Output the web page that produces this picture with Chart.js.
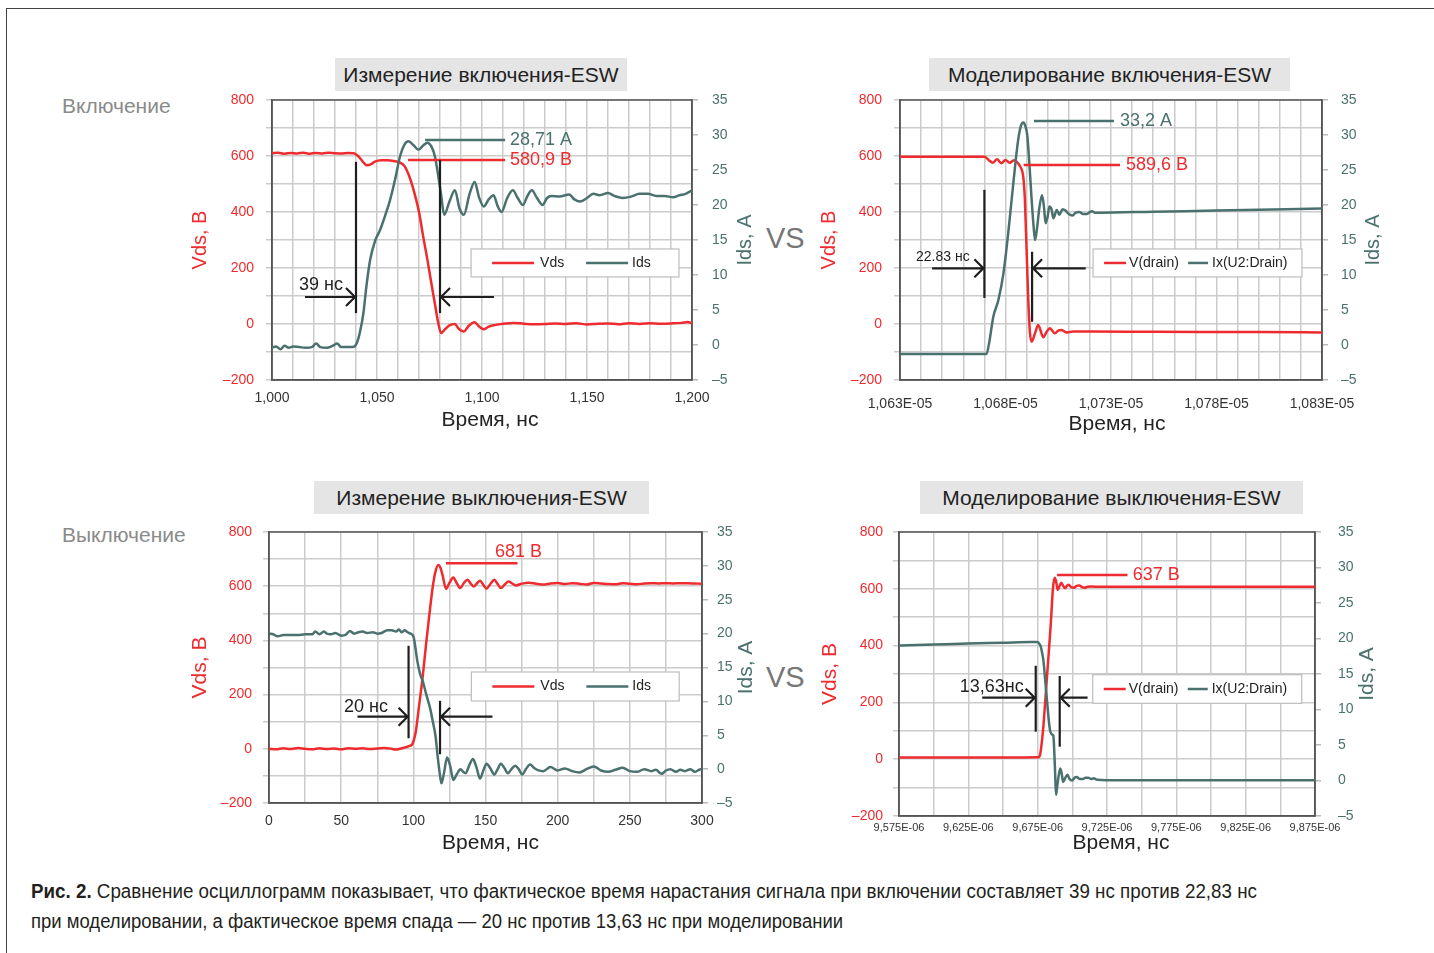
<!DOCTYPE html>
<html lang="ru">
<head>
<meta charset="utf-8">
<script src="https://cdn.jsdelivr.net/npm/chart.js@4.4.1/dist/chart.umd.min.js"></script>
<style>
  html, body { margin: 0; padding: 0; background: #fff; }
  body { width: 1434px; height: 953px; position: relative; overflow: hidden;
         font-family: "Liberation Sans", Arial, sans-serif; }
  canvas { position: absolute; }
  .rule { position: absolute; background: #444; }
  .ttl { position: absolute; background: #e5e5e5; color: #222; font-size: 21px;
         height: 33px; line-height: 33px; text-align: center; }
  .side { position: absolute; color: #8a8a8a; font-size: 21px; line-height: 24px; }
  .vs { position: absolute; color: #777; font-size: 29px; line-height: 34px; }
  .cap { position: absolute; left: 31px; font-size: 20px; line-height: 24px; color: #231f20;
         white-space: nowrap; transform-origin: 0 50%;
         font-family: "Liberation Sans Narrow", "Liberation Sans", Arial, sans-serif; }
</style>
</head>
<body>
<div class="rule" style="left:6px;top:8px;width:1428px;height:1px"></div>
<div class="rule" style="left:6px;top:8px;width:1px;height:945px"></div>

<div class="side" style="left:62px;top:94px">Включение</div>
<div class="side" style="left:62px;top:523px">Выключение</div>
<div class="vs" style="left:766px;top:221px">VS</div>
<div class="vs" style="left:766px;top:660px">VS</div>

<div class="ttl" style="left:335px;top:58px;width:292px">Измерение включения-ESW</div>
<div class="ttl" style="left:929px;top:58px;width:361px">Моделирование включения-ESW</div>
<div class="ttl" style="left:314px;top:481px;width:335px">Измерение выключения-ESW</div>
<div class="ttl" style="left:920px;top:481px;width:383px">Моделирование выключения-ESW</div>

<canvas id="c1" width="590" height="350" style="left:180px;top:92px"></canvas>
<canvas id="c2" width="580" height="350" style="left:810px;top:92px"></canvas>
<canvas id="c3" width="590" height="340" style="left:180px;top:524px"></canvas>
<canvas id="c4" width="570" height="340" style="left:810px;top:524px"></canvas>

<div class="cap" id="cap1" style="top:879px"><b>Рис. 2.</b> Сравнение осциллограмм показывает, что фактическое время нарастания сигнала при включении составляет 39 нс против 22,83 нс</div>
<div class="cap" id="cap2" style="top:909px">при моделировании, а фактическое время спада — 20 нс против 13,63 нс при моделировании</div>

<script>
const RED = '#ee2b2e';
const TEAL = '#4a716d';
const INK = '#1e1e1e';
const FONT = '"Liberation Sans", Arial, sans-serif';

// ---- Измерение включения (нс, В / А)
const on1VdsT = [1000,1003,1006,1009,1012,1015,1018,1021,1024,1027,1030,1033,1036,1039,1041,1043,1045,1047,1049,1052,1055,1058,1061,1063,1065,1067,1070,1072,1074,1076,1077.5,1079,1080.5,1082.5,1084.5,1087,1089,1091.4,1093.5,1096.5,1098.5,1100.8,1103,1106,1110,1115,1120,1125,1130,1135,1140,1145,1150,1155,1160,1165,1170,1175,1180,1185,1190,1195,1198,1200];
const on1VdsV = [610,612,608,611,609,612,608,611,609,612,610,609,611,610,600,582,567,570,580,585,585,582,576,565,535,490,400,312,230,140,75,10,-32,-18,-5,0,-18,-27,-8,6,-8,-19,-10,-4,1,4,1,-1,0,2,0,3,-2,1,2,-1,3,0,3,1,2,4,7,2];
const on1IdsT = [1000,1002,1004,1006,1008,1010,1013,1016,1019,1021,1023,1026,1029,1031,1033,1036,1038.5,1040.3,1042,1043.5,1045,1046.7,1049,1051.4,1054,1056.2,1058.5,1061,1063,1065,1067.5,1069.7,1072,1074,1076,1077.6,1079,1080.5,1082,1084.5,1087.1,1089.3,1091.4,1094,1096.5,1098.7,1100.8,1103.2,1105.5,1107.5,1109.3,1112,1114.7,1117,1119.5,1121.5,1123.7,1126.2,1128.8,1131,1133,1137,1141.5,1144,1146.7,1150,1153,1156,1160,1163,1167,1171,1175,1179,1183,1187,1191,1194,1197,1200];
const on1IdsA = [-0.4,-0.2,-0.6,-0.1,-0.4,-0.2,-0.3,-0.4,-0.3,0.2,-0.3,-0.4,-0.1,0.2,-0.3,-0.3,-0.3,0.2,2.0,4.5,8.5,12.1,14.8,16.4,18.6,20.7,23.5,27.0,28.6,29.1,28.5,27.9,28.5,28.9,28.3,26.9,24.5,21.5,18.6,20.5,22.1,19.5,18.6,21.5,23.3,21.0,19.8,20.8,21.4,19.8,19.0,21.0,22.1,21.0,20.0,21.2,22.1,21.0,20.0,21.0,21.3,21.2,21.5,20.8,20.5,21.0,21.6,21.4,21.7,21.3,21.0,21.2,21.6,21.6,21.3,21.3,21.1,21.4,21.6,22.1];

// ---- Моделирование включения (нс)
const on2VdsT = [10630,10670,10672,10674,10676,10678,10680,10682,10684,10685.5,10687,10688.4,10689.2,10690,10690.8,10691.6,10692.4,10694,10695.5,10697.9,10699.5,10701,10703.4,10705,10706.6,10709,10712,10720,10750,10800,10830];
const on2VdsV = [597,597,586,576,588,574,586,576,585,578,562,526,443,264,86,-33,-63,-33,-4,-47,-28,-15,-33,-24,-21,-30,-27,-27,-28,-29,-30];
const on2IdsT = [10630,10671,10672.3,10674.2,10676.6,10679,10681.3,10683.7,10686,10687.3,10688.4,10689.4,10690.3,10691.4,10692.4,10693.3,10694,10695,10696,10697.3,10698.2,10699,10700,10700.8,10701.8,10702.7,10704.3,10705.5,10707,10708.5,10710,10711.6,10713.3,10715,10716.8,10718.4,10720,10721,10722.5,10725,10750,10780,10830];
const on2IdsA = [-1.3,-1.3,0.4,4.0,6.4,10.2,16.0,23.1,29.3,31.3,31.8,31.3,30.0,25.5,20.7,17.0,15.0,16.8,19.5,21.4,19.8,17.4,18.4,19.8,19.4,18.1,19.3,18.6,19.4,19.2,18.7,18.5,18.9,19.0,18.7,18.7,19.0,19.1,18.9,18.9,19.05,19.2,19.5];

// ---- Измерение выключения (нс)
const off1VdsT = [0,5,10,15,20,25,30,35,40,45,50,55,60,65,70,75,80,85,88,92,95,97,99.2,100.5,101.7,104,106.6,109,111.6,113.5,115.3,117.3,118.8,120.2,122.7,125,127.7,130,132.6,135,137.6,139.7,141.8,144,146.2,148.5,150.7,153.4,156.1,158.4,160.6,163.3,166,168.5,171,175,180,185,190,195,200,205,210,215,220,225,230,235,240,245,250,255,260,265,270,275,280,285,290,295,300];
const off1VdsV = [0,-2,2,-1,3,0,-2,2,-1,1,-2,2,0,2,-1,1,3,0,-3,2,6,10,16,35,63,160,272,395,518,600,653,678,668,642,590,612,632,612,593,612,624,610,599,610,620,605,591,608,624,608,593,606,617,610,603,609,613,609,606,610,612,608,611,609,606,612,610,608,607,611,609,607,610,611,610,611,610,611,611,610,609];
const off1IdsT = [0,3,6,10,15,20,25,30,32,35,38,40,43,46,50,53,56,59,62,65,68,72,75,78,82,85,88,90,92,94,96,98,99.5,100.4,102.9,104.5,106.6,109,111.6,113.5,115.3,117,118.2,119.5,121.3,123.4,125.5,127.7,130,132.6,134.5,136.3,138.8,141.3,143.7,146.2,148.5,150.7,153.4,156.1,158.4,160.6,163,165.5,168,170.5,173,175.4,178,180.9,183.5,185.8,190,195,200,205,210,215,220,225,230,235,240,245,250,255,260,265,268,272,275,278,282,285,288,292,295,298,300];
const off1IdsA = [20.0,19.9,19.6,19.8,19.8,19.8,19.9,19.9,20.3,19.9,20.3,20.0,19.9,20.1,19.7,19.8,20.4,20.0,20.2,20.3,20.1,20.2,20.0,20.1,20.5,20.5,20.3,20.6,20.2,20.5,20.2,20.0,19.8,19.3,15.8,14.2,12.9,11.0,9.0,7.0,5.0,1.6,-0.5,-2.1,-0.5,1.7,0.5,-1.6,-0.8,0.0,-0.4,-0.6,0.6,1.5,0.3,-1.4,-0.2,0.8,0.1,-0.8,0.0,0.8,0.2,-0.6,0.0,0.5,0.0,-0.8,0.0,0.7,0.2,-0.1,-0.3,0.3,-0.2,0.1,-0.3,-0.5,0.0,0.4,-0.2,-0.4,-0.1,0.2,-0.3,-0.4,0.0,-0.3,-0.1,-0.7,-0.2,0.0,-0.4,-0.1,-0.3,0.0,-0.4,-0.1,0.0];

// ---- Моделирование выключения (нс)
const off2VdsT = [9575,9650,9675.4,9676.7,9678,9679.2,9681.8,9684.4,9686,9687.2,9688.2,9689.5,9690.8,9692.1,9693.4,9694.7,9696,9697.3,9699.2,9701.2,9703,9705,9707,9708.8,9711,9713.9,9720,9875];
const off2VdsV = [6,6,7,15,60,120,296,472,600,639,628,596,610,621,610,602,610,614,606,604,610,612,606,604,607,608,607,607];
const off2IdsT = [9575,9600,9625,9650,9670,9675,9676,9677.2,9678.2,9679.2,9680.5,9681.8,9683,9684,9685.2,9686.3,9687,9687.6,9688.2,9689,9690,9691.3,9692.3,9693.4,9695,9696.5,9698,9699.9,9701.6,9703.2,9705.5,9707.6,9709.5,9711.5,9713.5,9715.4,9718,9725,9875];
const off2IdsA = [19.0,19.15,19.3,19.4,19.5,19.5,19.3,18.9,18.0,16.8,14.0,11.1,8.5,7.0,6.5,6.3,4.0,1.0,-2.0,-1.0,0.5,1.7,1.0,-0.2,0.4,0.8,0.2,0.0,0.4,0.5,0.2,0.2,0.4,0.4,0.2,0.3,0.1,0.05,0.05];

// ---- Подписи делений
const vTickVals = [-200, 0, 200, 400, 600, 800];
const vTickText = ['\u2013200', '0', '200', '400', '600', '800'];
const aTickVals = [-5, 0, 5, 10, 15, 20, 25, 30, 35];
const aTickText = ['\u20135', '0', '5', '10', '15', '20', '25', '30', '35'];
const x1TickVals = [1000, 1050, 1100, 1150, 1200];
const x1TickText = ['1,000', '1,050', '1,100', '1,150', '1,200'];
const x2TickVals = [10630, 10680, 10730, 10780, 10830];
const x2TickText = ['1,063E-05', '1,068E-05', '1,073E-05', '1,078E-05', '1,083E-05'];
const x3TickVals = [0, 50, 100, 150, 200, 250, 300];
const x3TickText = ['0', '50', '100', '150', '200', '250', '300'];
const x4TickVals = [9575, 9625, 9675, 9725, 9775, 9825, 9875];
const x4TickText = ['9,575E-06', '9,625E-06', '9,675E-06', '9,725E-06', '9,775E-06', '9,825E-06', '9,875E-06'];

function pts(xs, ys) {
    return xs.map(function (x, i) { return { x: x, y: ys[i] }; });
}

function lookup(vals, text) {
    return function (v) {
        for (var i = 0; i < vals.length; i++) {
            if (Math.abs(vals[i] - v) < 1e-6) return text[i];
        }
        return '';
    };
}

function fitTo(w, h) {
    return function (scale) {
        if (w) scale.width = w;
        if (h) scale.height = h;
        scale.paddingTop = 0; scale.paddingBottom = 0;
        scale.paddingLeft = 0; scale.paddingRight = 0;
    };
}

// annotations: everything in axis units, turned into pixels by the chart's scales
function marksPlugin(m, o) {
    return {
        id: 'marks',
        beforeDatasetsDraw: function (chart) {
            var a = chart.chartArea, ctx = chart.ctx;
            ctx.save();
            ctx.strokeStyle = '#555';
            ctx.lineWidth = 1.5;
            ctx.strokeRect(a.left, a.top, a.right - a.left, a.bottom - a.top);
            ctx.restore();
        },
        afterDatasetsDraw: function (chart) {
            var ctx = chart.ctx, sx = chart.scales.x;
            var sc = function (ax) { return chart.scales[ax]; };
            ctx.save();
            ctx.lineCap = 'butt';

            (m.hlines || []).forEach(function (h) {
                var y = sc(h.ax).getPixelForValue(h.y);
                ctx.strokeStyle = h.c; ctx.lineWidth = 2.5;
                ctx.beginPath();
                ctx.moveTo(sx.getPixelForValue(h.x1), y);
                ctx.lineTo(sx.getPixelForValue(h.x2), y);
                ctx.stroke();
            });

            (m.vlines || []).forEach(function (v) {
                var x = sx.getPixelForValue(v.x), sy = chart.scales.y;
                ctx.strokeStyle = INK; ctx.lineWidth = 2.2;
                ctx.beginPath();
                ctx.moveTo(x, sy.getPixelForValue(v.y1));
                ctx.lineTo(x, sy.getPixelForValue(v.y2));
                ctx.stroke();
            });

            (m.arrows || []).forEach(function (r) {
                var sy = chart.scales.y, y = sy.getPixelForValue(r.y);
                var x0 = sx.getPixelForValue(r.from), x1 = sx.getPixelForValue(r.to);
                var d = x1 > x0 ? 1 : -1;
                ctx.strokeStyle = INK; ctx.lineWidth = 2.2;
                ctx.beginPath();
                ctx.moveTo(x0, y); ctx.lineTo(x1 - d * 1, y);
                ctx.moveTo(x1 - d * 10, y - 9); ctx.lineTo(x1 - d * 1, y); ctx.lineTo(x1 - d * 10, y + 9);
                ctx.stroke();
            });

            (m.texts || []).forEach(function (t) {
                ctx.fillStyle = t.c;
                ctx.font = t.f + 'px ' + FONT;
                ctx.textAlign = 'left';
                ctx.textBaseline = 'middle';
                ctx.fillText(t.t, sx.getPixelForValue(t.x), sc(t.ax).getPixelForValue(t.y));
            });

            if (m.legend) {
                var g = m.legend, sy = chart.scales.y;
                var l = sx.getPixelForValue(g.x1), r = sx.getPixelForValue(g.x2);
                var tp = sy.getPixelForValue(g.y1), bt = sy.getPixelForValue(g.y2);
                var cy = (tp + bt) / 2;
                ctx.fillStyle = '#fff';
                ctx.fillRect(l, tp, r - l, bt - tp);
                ctx.strokeStyle = '#bdbdbd'; ctx.lineWidth = 1.2;
                ctx.strokeRect(l, tp, r - l, bt - tp);
                g.items.forEach(function (it) {
                    ctx.strokeStyle = it.c; ctx.lineWidth = 2.5;
                    ctx.beginPath();
                    ctx.moveTo(l + it.l0, cy); ctx.lineTo(l + it.l1, cy);
                    ctx.stroke();
                    ctx.fillStyle = '#222';
                    ctx.font = '14px ' + FONT;
                    ctx.textAlign = 'left'; ctx.textBaseline = 'middle';
                    ctx.fillText(it.t, l + it.tx, cy);
                });
            }
            ctx.restore();
        },
        afterDraw: function (chart) {
            // axis titles not placed the way Chart.js would put them:
            // right title reads bottom-to-top, x title sits a little right of centre
            var ctx = chart.ctx, a = chart.chartArea;
            ctx.save();
            ctx.textAlign = 'center';
            ctx.textBaseline = 'middle';
            ctx.fillStyle = '#222';
            ctx.font = '21px ' + FONT;
            ctx.fillText('Время, нс', (a.left + a.right) / 2 + o.xTitleDx, chart.height - o.xTitleUp);
            ctx.translate(chart.width - o.y1TitleOff, (a.top + a.bottom) / 2);
            ctx.rotate(-Math.PI / 2);
            ctx.fillStyle = TEAL;
            ctx.font = o.yTitleSize + 'px ' + FONT;
            ctx.fillText('Ids, А', 0, 0);
            ctx.restore();
        }
    };
}

function makeChart(id, o) {
    var grid = '#cbcbcb';
    return new Chart(document.getElementById(id), {
        type: 'line',
        data: {
            datasets: [
                { label: o.names[1], data: o.ids, yAxisID: 'y1', borderColor: TEAL, borderWidth: 2.5,
                  pointRadius: 0, cubicInterpolationMode: 'monotone', fill: false },
                { label: o.names[0], data: o.vds, yAxisID: 'y', borderColor: RED, borderWidth: 2.5,
                  pointRadius: 0, cubicInterpolationMode: 'monotone', fill: false }
            ]
        },
        options: {
            responsive: false,
            animation: false,
            events: [],
            layout: { padding: { top: o.padTop, left: 0, right: 0, bottom: 0 } },
            plugins: { legend: { display: false }, tooltip: { enabled: false } },
            scales: {
                x: {
                    type: 'linear', min: o.xMin, max: o.xMax,
                    afterFit: fitTo(null, o.xH),
                    grid: { color: grid, lineWidth: 1.5, drawTicks: false },
                    border: { color: '#555', width: 1.5 },
                    ticks: { stepSize: o.xStep, maxTicksLimit: 100, autoSkip: false, maxRotation: 0,
                             padding: o.xPad, color: '#333', font: { family: FONT, size: o.xFont },
                             callback: lookup(o.xVals, o.xText) }
                },
                y: {
                    position: 'left', min: -200, max: 800,
                    afterFit: fitTo(o.yW, null),
                    grid: { color: grid, lineWidth: 1.5, tickLength: 6 },
                    border: { color: '#555', width: 1.5 },
                    ticks: { stepSize: 100, maxTicksLimit: 100, autoSkip: false, padding: o.yPad,
                             color: RED, font: { family: FONT, size: 14 },
                             callback: lookup(vTickVals, vTickText) },
                    title: { display: true, text: 'Vds, В', color: RED,
                             font: { family: FONT, size: o.yTitleSize }, padding: { top: o.yTitlePad, bottom: 0 } }
                },
                y1: {
                    position: 'right', min: -5, max: 35,
                    afterFit: fitTo(o.y1W, null),
                    grid: { drawOnChartArea: false, color: '#bbb', lineWidth: 1.5, tickLength: 6 },
                    border: { color: '#555', width: 1.5 },
                    ticks: { stepSize: 5, maxTicksLimit: 100, autoSkip: false, padding: o.y1Pad,
                             color: TEAL, font: { family: FONT, size: 14 },
                             callback: lookup(aTickVals, aTickText) }
                }
            }
        },
        plugins: [marksPlugin(o.marks, o)]
    });
}

var legA = [{ c: RED, t: 'Vds', l0: 21, l1: 63, tx: 69 }, { c: TEAL, t: 'Ids', l0: 115, l1: 157, tx: 161 }];
var legB = [{ c: RED, t: 'V(drain)', l0: 11, l1: 33, tx: 36 }, { c: TEAL, t: 'Ix(U2:Drain)', l0: 95, l1: 115, tx: 119 }];

makeChart('c1', {
    names: ['Vds', 'Ids'], vds: pts(on1VdsT, on1VdsV), ids: pts(on1IdsT, on1IdsA),
    xMin: 1000, xMax: 1200, xStep: 10, xVals: x1TickVals, xText: x1TickText, xFont: 14,
    padTop: 8, yW: 92, y1W: 78, xH: 62, xPad: 10, yPad: 12, y1Pad: 14,
    yTitleSize: 20, yTitlePad: 8, y1TitleOff: 25, xTitleDx: 8, xTitleUp: 22,
    marks: {
        hlines: [{ x1: 1072.9, x2: 1111, y: 29.3, ax: 'y1', c: TEAL }, { x1: 1064.8, x2: 1111, y: 586, ax: 'y', c: RED }],
        texts: [{ x: 1113.3, y: 29.3, ax: 'y1', t: '28,71 А', c: TEAL, f: 18 },
                { x: 1113.3, y: 586, ax: 'y', t: '580,9 В', c: RED, f: 18 },
                { x: 1012.9, y: 139, ax: 'y', t: '39 нс', c: INK, f: 18 }],
        vlines: [{ x: 1040, y1: 579, y2: 39 }, { x: 1080, y1: 586, y2: 39 }],
        arrows: [{ from: 1015.7, to: 1040, y: 96.4 }, { from: 1105.7, to: 1080, y: 96.4 }],
        legend: { x1: 1094.8, x2: 1193.8, y1: 268, y2: 168, items: legA }
    }
});

makeChart('c2', {
    names: ['V(drain)', 'Ix(U2:Drain)'], vds: pts(on2VdsT, on2VdsV), ids: pts(on2IdsT, on2IdsA),
    xMin: 10630, xMax: 10830, xStep: 10, xVals: x2TickVals, xText: x2TickText, xFont: 14,
    padTop: 8, yW: 90, y1W: 68, xH: 62, xPad: 16, yPad: 12, y1Pad: 13,
    yTitleSize: 20, yTitlePad: 7, y1TitleOff: 17, xTitleDx: 6, xTitleUp: 18,
    marks: {
        hlines: [{ x1: 10693.5, x2: 10731.4, y: 32, ax: 'y1', c: TEAL }, { x1: 10688.6, x2: 10734.3, y: 568, ax: 'y', c: RED }],
        texts: [{ x: 10734.3, y: 32, ax: 'y1', t: '33,2 А', c: TEAL, f: 18 },
                { x: 10737.1, y: 568, ax: 'y', t: '589,6 В', c: RED, f: 18 },
                { x: 10637.6, y: 239, ax: 'y', t: '22.83 нс', c: INK, f: 14 }],
        vlines: [{ x: 10670, y1: 479, y2: 93 }, { x: 10692.6, y1: 258, y2: 8 }],
        arrows: [{ from: 10645.2, to: 10670, y: 199 }, { from: 10718, to: 10692.6, y: 199 }],
        legend: { x1: 10721.5, x2: 10820.5, y1: 268, y2: 168, items: legB }
    }
});

makeChart('c3', {
    names: ['Vds', 'Ids'], vds: pts(off1VdsT, off1VdsV), ids: pts(off1IdsT, off1IdsA),
    xMin: 0, xMax: 300, xStep: 25, xVals: x3TickVals, xText: x3TickText, xFont: 14,
    padTop: 8, yW: 89, y1W: 68, xH: 61, xPad: 10, yPad: 11, y1Pad: 9,
    yTitleSize: 21, yTitlePad: 8, y1TitleOff: 24, xTitleDx: 5, xTitleUp: 21,
    marks: {
        hlines: [{ x1: 122.6, x2: 172.2, y: 684.5, ax: 'y', c: RED }],
        texts: [{ x: 156.6, y: 726, ax: 'y', t: '681 В', c: RED, f: 18 },
                { x: 52, y: 154, ax: 'y', t: '20 нс', c: INK, f: 18 }],
        vlines: [{ x: 96.7, y1: 380, y2: 39 }, { x: 118.5, y1: 177, y2: -20 }],
        arrows: [{ from: 61.3, to: 96.7, y: 118.5 }, { from: 154.8, to: 118.5, y: 118.5 }],
        legend: { x1: 140.2, x2: 284.2, y1: 283.4, y2: 176.4, items: legA }
    }
});

makeChart('c4', {
    names: ['V(drain)', 'Ix(U2:Drain)'], vds: pts(off2VdsT, off2VdsV), ids: pts(off2IdsT, off2IdsA),
    xMin: 9575, xMax: 9875, xStep: 25, xVals: x4TickVals, xText: x4TickText, xFont: 11,
    padTop: 8, yW: 89, y1W: 65, xH: 48, xPad: 5, yPad: 10, y1Pad: 17,
    yTitleSize: 21, yTitlePad: 8, y1TitleOff: 13, xTitleDx: 14, xTitleUp: 21,
    marks: {
        hlines: [{ x1: 9689, x2: 9739.8, y: 648.6, ax: 'y', c: RED }],
        texts: [{ x: 9743.5, y: 648.6, ax: 'y', t: '637 В', c: RED, f: 18 },
                { x: 9618.8, y: 254, ax: 'y', t: '13,63нс', c: INK, f: 18 }],
        vlines: [{ x: 9673.6, y1: 329, y2: 97 }, { x: 9690.9, y1: 293, y2: 44 }],
        arrows: [{ from: 9635, to: 9673.6, y: 216.6 }, { from: 9711, to: 9690.9, y: 216.6 }],
        legend: { x1: 9714.7, x2: 9865.4, y1: 297.5, y2: 196.8, items: legB }
    }
});

// caption lines are set in a condensed face in the original; stretch to the same width
[['cap1', 1226], ['cap2', 812]].forEach(function (p) {
    var el = document.getElementById(p[0]);
    el.style.transform = 'scaleX(' + (p[1] / el.offsetWidth) + ')';
});
</script>
</body>
</html>
